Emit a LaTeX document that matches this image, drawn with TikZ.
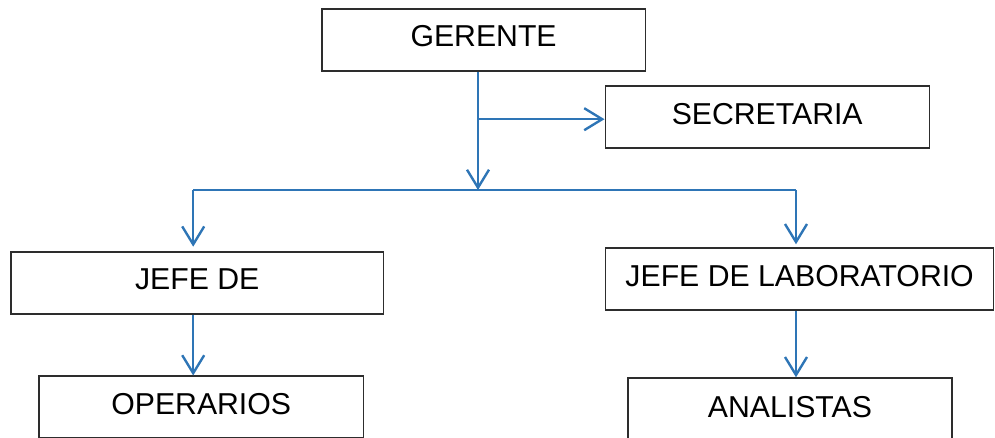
\documentclass[tikz,border=0pt]{standalone}
\usepackage{fontspec}
\setmainfont{Liberation Sans}
\usetikzlibrary{arrows.meta,positioning,calc}
\definecolor{linkblue}{RGB}{46,117,182}
\definecolor{boxline}{RGB}{45,45,45}
\tikzset{
  box/.style={draw=boxline, line width=1pt, minimum height=1.55cm, inner sep=0pt,
    text depth=1.8mm, font=\fontsize{21.5}{26}\selectfont, fill=white},
  wire/.style={draw=linkblue, line width=1.7pt},
  flow/.style={wire, -{Straight Barb[length=4.5mm, width=5.5mm, line width=1.7pt]}}
}

\begin{document}
\begin{tikzpicture}
  \useasboundingbox (0,0) rectangle (24.875,-10.95);
  \node[box, minimum width=8.08cm] (ger) at (12.09,-1.0) {GERENTE};
  \node[box, minimum width=8.1cm] (sec) at (19.18,-2.93) {SECRETARIA};
  \node[box, minimum width=9.3cm] (jop) at (4.93,-7.08) {JEFE DE};
  \node[box, minimum width=9.7cm] (jlab) at (19.99,-6.98) {JEFE DE LABORATORIO};
  \node[box, minimum width=8.1cm] (ope) at (5.03,-10.18) {OPERARIOS};
  \node[box, minimum width=8.1cm, minimum height=1.75cm, text depth=3.2mm] (ana) at (19.75,-10.325) {ANALISTAS};
  % branch points
  \coordinate (hub) at (11.95,-4.75);
  \coordinate (split) at (11.95,-2.98);
  \coordinate (barL) at (4.83,-4.75);
  \coordinate (barR) at (19.9,-4.75);
  \draw[flow] (ger.south -| hub) -- (hub);
  \draw[flow] (split) -- (split -| sec.west);
  \draw[wire] (barL) -- (barR);
  \draw[flow, shorten >=1.2mm] (barL) -- (barL |- jop.north);
  \draw[flow, shorten >=0.8mm] (barR) -- (barR |- jlab.north);
  \draw[flow] (jop.south -| barL) -- (ope.north -| barL);
  \draw[flow] (jlab.south -| barR) -- (ana.north -| barR);
\end{tikzpicture}
\end{document}
